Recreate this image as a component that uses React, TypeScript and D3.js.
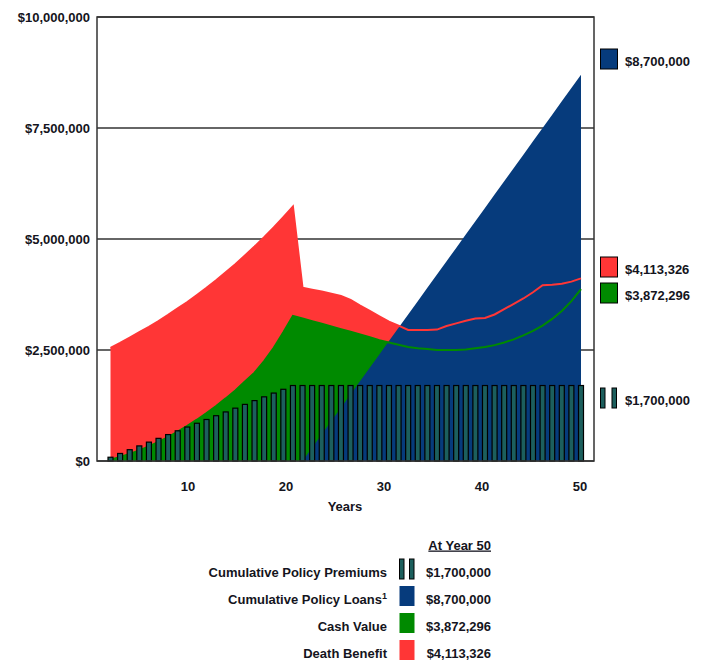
import React from 'react';
import * as d3 from 'd3';

// ---------- data ($ millions) ----------
const years = [
  1, 2, 3, 4, 5, 6, 7, 8, 9, 10, 11, 12, 13, 14, 15, 16, 17, 18, 19, 20,
  21, 22, 23, 24, 25, 26, 27, 28, 29, 30, 31, 32, 33, 34, 35, 36, 37, 38, 39, 40,
  41, 42, 43, 44, 45, 46, 47, 48, 49, 50,
];
const premiums = [
  0.085, 0.17, 0.255, 0.34, 0.425, 0.51, 0.595, 0.68, 0.765, 0.85,
  0.935, 1.02, 1.105, 1.19, 1.275, 1.36, 1.445, 1.53, 1.615, 1.7,
  1.7, 1.7, 1.7, 1.7, 1.7, 1.7, 1.7, 1.7, 1.7, 1.7,
  1.7, 1.7, 1.7, 1.7, 1.7, 1.7, 1.7, 1.7, 1.7, 1.7,
  1.7, 1.7, 1.7, 1.7, 1.7, 1.7, 1.7, 1.7, 1.7, 1.7,
];
const loans = [
  0, 0, 0, 0, 0, 0, 0, 0, 0, 0,
  0, 0, 0, 0, 0, 0, 0, 0, 0, 0,
  0, 0.3, 0.6, 0.9, 1.2, 1.5, 1.8, 2.1, 2.4, 2.7,
  3.0, 3.3, 3.6, 3.9, 4.2, 4.5, 4.8, 5.1, 5.4, 5.7,
  6.0, 6.3, 6.6, 6.9, 7.2, 7.5, 7.8, 8.1, 8.4, 8.7,
];
const deathBenefit = [
  2.55, 2.66, 2.78, 2.9, 3.02, 3.15, 3.29, 3.44, 3.58, 3.74,
  3.9, 4.07, 4.25, 4.43, 4.63, 4.83, 5.04, 5.26, 5.49, 5.73,
  3.9, 3.86, 3.82, 3.77, 3.72, 3.63, 3.5, 3.38, 3.26, 3.14,
  3.05, 2.95, 2.95, 2.95, 2.96, 3.04, 3.1, 3.16, 3.21, 3.22,
  3.3, 3.42, 3.54, 3.66, 3.8, 3.96, 3.97, 3.99, 4.04, 4.113326,
];
const cashValue = [
  0.03, 0.09, 0.16, 0.24, 0.33, 0.43, 0.54, 0.66, 0.79, 0.93,
  1.08, 1.24, 1.41, 1.59, 1.79, 1.99, 2.25, 2.55, 2.9, 3.27,
  3.21, 3.15, 3.09, 3.03, 2.97, 2.91, 2.85, 2.79, 2.72, 2.67,
  2.62, 2.57, 2.54, 2.52, 2.5, 2.5, 2.5, 2.51, 2.54, 2.57,
  2.61, 2.67, 2.74, 2.83, 2.93, 3.05, 3.2, 3.38, 3.6, 3.872296,
];
const yTicks = [0, 2.5, 5, 7.5, 10];
const xTicks = [10, 20, 30, 40, 50];
const legendLabels = ['Cumulative Policy Premiums', 'Cumulative Policy Loans', 'Cash Value', 'Death Benefit'];
const legendValues = ['$1,700,000', '$8,700,000', '$3,872,296', '$4,113,326'];
const legendHeader = 'At Year 50';
const xTitle = 'Years';

// ---------- styles / layout ----------
const W = 713;
const H = 671;
const C = {
  red: '#ff3636',
  green: '#008a00',
  blue: '#063b7c',
  teal: '#1c5f5d',
  text: '#141420',
  frame: '#333333',
};
const FONT = '"Liberation Sans", Arial, sans-serif';
const M = { left: 97, right: 594, top: 17, bottom: 461 };
// side label icon centres (order: loans, death benefit, cash value, premiums)
const sideCenters = [59, 267, 293, 398];
const legendCenters = [569, 596, 623, 650];

export default function App() {
  const y = d3.scaleLinear().domain([0, 10]).range([M.bottom, M.top]);
  const x = d3.scaleLinear().domain([1, 50]).range([110.5, 581]);
  const tickX = d3.scaleLinear().domain([0, 50]).range([90, 580]);
  const fmt = d3.format('$,.0f');

  const idx = years.map((_, i) => i);
  const areaOf = (vals: number[]) =>
    d3
      .area<number>()
      .x((i) => x(years[i]))
      .y0(y(0))
      .y1((i) => y(vals[i]))(idx) || '';
  const lineOf = (vals: number[]) =>
    d3
      .line<number>()
      .x((i) => x(years[i]))
      .y((i) => y(vals[i]))(idx) || '';
  const loanIdx = idx.filter((i) => loans[i] > 0 || (i + 1 < loans.length && loans[i + 1] > 0));
  const loanArea =
    d3
      .area<number>()
      .x((i) => x(years[i]))
      .y0(y(0))
      .y1((i) => y(loans[i]))(loanIdx) || '';

  const barW = 5;
  const text = (props: any, s: any) => (
    <text fontFamily={FONT} fontWeight="bold" fontSize={13} fill={C.text} {...props}>
      {s}
    </text>
  );

  const sideItems = [
    { kind: 'box', color: C.blue, label: legendValues[1] },
    { kind: 'box', color: C.red, label: legendValues[3] },
    { kind: 'box', color: C.green, label: legendValues[2] },
    { kind: 'bars', color: C.teal, label: legendValues[0] },
  ];
  const legendColors = [C.teal, C.blue, C.green, C.red];

  return (
    <svg width={W} height={H} style={{ position: 'absolute', left: 0, top: 0, background: '#fff' }}>
      <rect x={0} y={0} width={W} height={H} fill="#fff" />
      {/* grid */}
      {yTicks.map((t) => (
        <line key={t} x1={M.left} x2={M.right} y1={y(t)} y2={y(t)} stroke={C.frame} strokeWidth={1.5} />
      ))}
      {/* areas */}
      <path d={areaOf(deathBenefit)} fill={C.red} />
      <path d={areaOf(cashValue)} fill={C.green} />
      <path d={loanArea} fill={C.blue} />
      <path d={lineOf(deathBenefit)} fill="none" stroke={C.red} strokeWidth={2} />
      <path d={lineOf(cashValue)} fill="none" stroke={C.green} strokeWidth={2} />
      {/* premium bars */}
      {years.map((yr, i) => (
        <rect
          key={yr}
          x={x(yr) - barW / 2}
          y={y(premiums[i])}
          width={barW}
          height={y(0) - y(premiums[i])}
          fill={C.teal}
          stroke="#000"
          strokeWidth={1.2}
        />
      ))}
      {/* frame */}
      <rect
        x={M.left}
        y={M.top}
        width={M.right - M.left}
        height={M.bottom - M.top}
        fill="none"
        stroke={C.frame}
        strokeWidth={1.5}
      />
      {/* y labels */}
      {yTicks.map((t) => (
        <React.Fragment key={'yl' + t}>
          {text({ x: 90, y: y(t) + 4.5, textAnchor: 'end' }, fmt(t * 1e6))}
        </React.Fragment>
      ))}
      {/* x labels */}
      {xTicks.map((t) => (
        <React.Fragment key={'xl' + t}>
          {text({ x: tickX(t), y: 491, textAnchor: 'middle' }, String(t))}
        </React.Fragment>
      ))}
      {text({ x: 345, y: 511, textAnchor: 'middle' }, xTitle)}
      {/* side labels */}
      {sideItems.map((s, i) => {
        const cy = sideCenters[i];
        return (
          <g key={'side' + i}>
            {s.kind === 'box' ? (
              <rect x={600.5} y={cy - 10} width={17} height={20} fill={s.color} stroke="#000" strokeWidth={1} />
            ) : (
              <g>
                <rect x={600.5} y={cy - 10} width={4.5} height={20} fill={s.color} stroke="#000" strokeWidth={1} />
                <rect x={612} y={cy - 10} width={4.5} height={20} fill={s.color} stroke="#000" strokeWidth={1} />
              </g>
            )}
            {text({ x: 625, y: cy + 7 }, s.label)}
          </g>
        );
      })}
      {/* bottom legend */}
      {text({ x: 491, y: 549.5, textAnchor: 'end', textDecoration: 'underline' }, legendHeader)}
      {legendLabels.map((lab, i) => {
        const cy = legendCenters[i];
        return (
          <g key={'lg' + i}>
            <text
              x={387}
              y={cy + 8}
              textAnchor="end"
              fontFamily={FONT}
              fontWeight="bold"
              fontSize={13}
              fill={C.text}
            >
              {lab}
              {i === 1 ? (
                <tspan dy={-5} fontSize={9}>
                  1
                </tspan>
              ) : null}
            </text>
            {i === 0 ? (
              <g>
                <rect x={399.5} y={cy - 10} width={4.5} height={20} fill={legendColors[i]} stroke="#000" strokeWidth={1} />
                <rect x={409.5} y={cy - 10} width={4.5} height={20} fill={legendColors[i]} stroke="#000" strokeWidth={1} />
              </g>
            ) : (
              <rect x={399.5} y={cy - 10} width={15} height={20} fill={legendColors[i]} />
            )}
            {text({ x: 491, y: cy + 8, textAnchor: 'end' }, legendValues[i])}
          </g>
        );
      })}
    </svg>
  );
}
